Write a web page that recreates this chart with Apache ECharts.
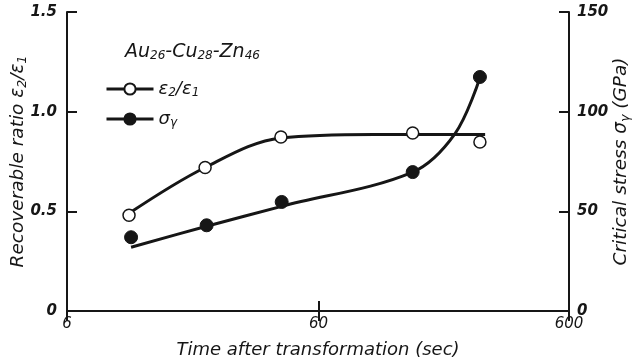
<!DOCTYPE html>
<html>
<head>
<meta charset="utf-8">
<script src="https://cdn.jsdelivr.net/npm/echarts@6/dist/echarts.min.js"></script>
<style>
  html, body { margin: 0; padding: 0; background: #fff; }
  #chart { width: 633px; height: 362px; }
</style>
</head>
<body>
<div id="chart"></div>
<script>
// measured points (time in sec)
const epsTime = [10.6, 21.3, 42.7, 143, 265];
const epsRatio = [0.48, 0.72, 0.873, 0.893, 0.848];
const sigTime = [10.8, 21.6, 43, 143, 265];
const sigStress = [37, 43, 54.7, 69.7, 117.4];

// hand-drawn fit curves
const epsFitTime = [10.6, 21.3, 42.7, 100, 278];
const epsFitRatio = [0.49, 0.72, 0.868, 0.886, 0.886];
const sigFitTime = [10.8, 21.6, 43, 143, 211, 265];
const sigFitStress = [32, 42.5, 52.5, 69.7, 89, 117];

const xTicks = [6, 60, 600];
const leftTicks = [0, 0.5, 1.0, 1.5];
const rightTicks = [0, 50, 100, 150];

const ink = '#161616';
const font = 'DejaVu Sans';

const zip = (a, b) => a.map((v, i) => [v, b[i]]);

const chart = echarts.init(document.getElementById('chart'));

const axisBase = {
  axisLine: { lineStyle: { color: ink, width: 2 } },
  axisTick: { inside: true, length: 10, lineStyle: { color: ink, width: 2 } },
  splitLine: { show: false }
};

const richText = (big, small) => ({
  m: { fontSize: big, fontStyle: 'italic', fontWeight: 'normal', color: ink, fontFamily: font },
  s: { fontSize: small, fontStyle: 'italic', fontWeight: 'normal', color: ink, fontFamily: font, padding: [8, 0, 0, 0] }
});

chart.setOption({
  animation: false,
  backgroundColor: '#fff',
  textStyle: { fontFamily: font },
  title: {
    text: '{m|Au}{s|26}{m|-Cu}{s|28}{m|-Zn}{s|46}',
    left: 120, top: 37,
    textStyle: { fontWeight: 'normal', rich: richText(19, 12) }
  },
  legend: {
    orient: 'vertical',
    left: 100, top: 75,
    itemWidth: 47, itemHeight: 14, itemGap: 11,
    data: [
      { name: 'eps', lineStyle: { opacity: 1, width: 3, color: ink } },
      { name: 'sigma', lineStyle: { opacity: 1, width: 3, color: ink } }
    ],
    formatter: n => n === 'eps' ? '{m|ε}{s|2}{m|/ε}{s|1}' : '{m|σ}{s|γ}',
    textStyle: { rich: richText(18, 12) }
  },
  grid: { left: 67, right: 64, top: 12, bottom: 51, outerBoundsMode: 'none', containLabel: false },
  xAxis: [
    Object.assign({}, axisBase, {
      type: 'log', logBase: 10, min: 6, max: 600, interval: 1,
      position: 'bottom',
      axisLabel: {
        color: ink, fontSize: 15, fontStyle: 'italic', margin: 6,
        formatter: v => String(Math.round(v))
      },
      name: 'Time after transformation (sec)',
      nameLocation: 'middle', nameGap: 30, nameMoveOverlap: false,
      nameTextStyle: { fontSize: 18, fontStyle: 'italic', color: ink }
    }),
    Object.assign({}, axisBase, {
      type: 'log', logBase: 10, min: 6, max: 600, interval: 1,
      position: 'top',
      axisLabel: { show: false }
    })
  ],
  yAxis: [
    Object.assign({}, axisBase, {
      type: 'value', min: 0, max: 1.5, interval: 0.5,
      position: 'left',
      axisLabel: {
        color: ink, fontSize: 15, fontStyle: 'italic', fontWeight: 'bold', margin: 10,
        formatter: v => v === 0 ? '0' : v.toFixed(1)
      },
      name: '{m|Recoverable ratio ε}{s|2}{m|/ε}{s|1}',
      nameLocation: 'middle', nameGap: 38, nameRotate: 90, nameMoveOverlap: false,
      nameTextStyle: { rich: richText(18.5, 12.5) }
    }),
    Object.assign({}, axisBase, {
      type: 'value', min: 0, max: 150, interval: 50,
      position: 'right',
      axisLabel: {
        color: ink, fontSize: 15, fontStyle: 'italic', fontWeight: 'bold', margin: 8
      },
      name: '{m|Critical stress σ}{s|γ}{m| (GPa)}',
      nameLocation: 'middle', nameGap: 42, nameRotate: 90, nameMoveOverlap: false,
      nameTextStyle: { rich: richText(18.5, 12.5) }
    })
  ],
  series: [
    {
      name: 'epsFit', type: 'line', xAxisIndex: 0, yAxisIndex: 0,
      data: zip(epsFitTime, epsFitRatio),
      smooth: 0.35, symbol: 'none',
      lineStyle: { color: ink, width: 3 }, z: 2
    },
    {
      name: 'sigmaFit', type: 'line', xAxisIndex: 0, yAxisIndex: 1,
      data: zip(sigFitTime, sigFitStress),
      smooth: 0.35, symbol: 'none',
      lineStyle: { color: ink, width: 3 }, z: 2
    },
    {
      name: 'eps', type: 'line', xAxisIndex: 0, yAxisIndex: 0,
      data: zip(epsTime, epsRatio),
      symbol: 'circle', symbolSize: 12,
      itemStyle: { color: '#fff', borderColor: ink, borderWidth: 1.5 },
      lineStyle: { opacity: 0, color: ink }, z: 5
    },
    {
      name: 'sigma', type: 'line', xAxisIndex: 0, yAxisIndex: 1,
      data: zip(sigTime, sigStress),
      symbol: 'circle', symbolSize: 13,
      itemStyle: { color: ink, borderColor: ink, borderWidth: 1 },
      lineStyle: { opacity: 0, color: ink }, z: 5
    }
  ]
});
</script>
</body>
</html>
